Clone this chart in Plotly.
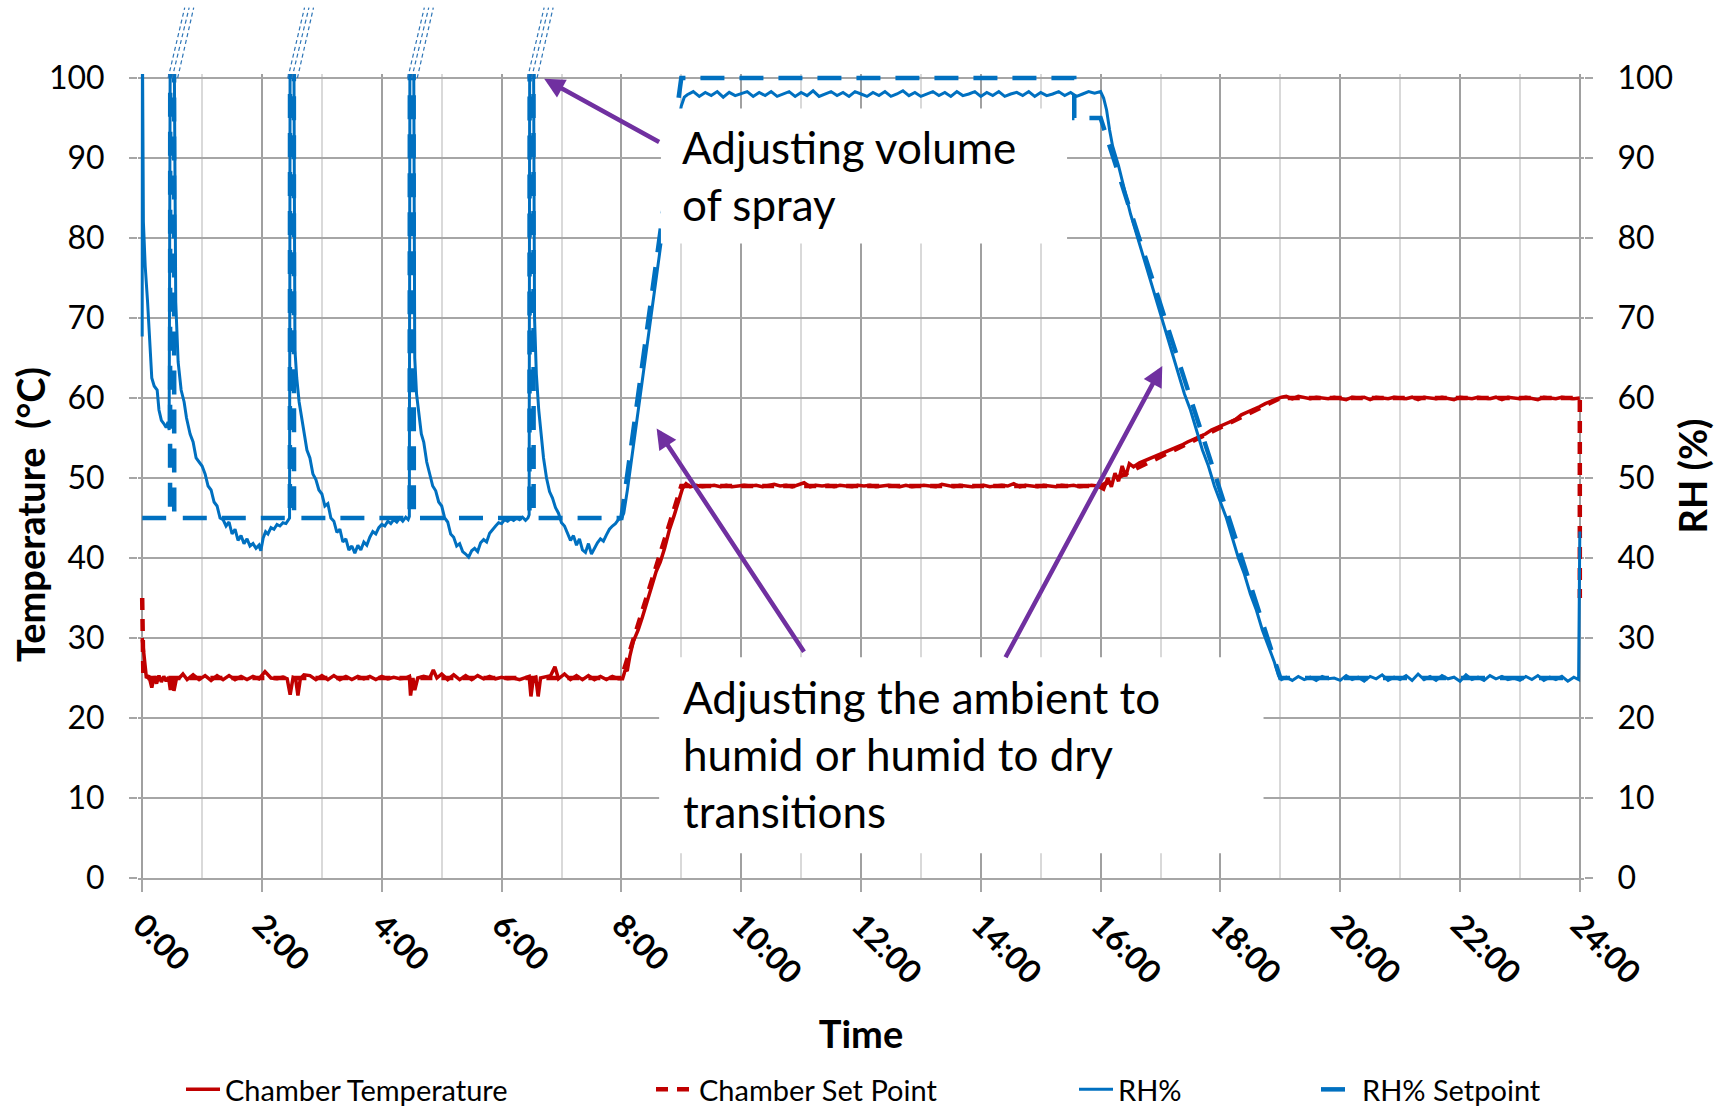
import plotly.graph_objects as go

# ---------------- data (hours since start) ----------------
tick_hours = [0, 2, 4, 6, 8, 10, 12, 14, 16, 18, 20, 22, 24]
tick_text = ["0:00", "2:00", "4:00", "6:00", "8:00", "10:00", "12:00",
             "14:00", "16:00", "18:00", "20:00", "22:00", "24:00"]

# Chamber Temperature (°C)
temp_points = [
    (0.00, 30.0), (0.03, 27.6), (0.07, 25.0), (0.11, 25.3), (0.16, 23.8), (0.20, 25.2),
    (0.24, 24.3), (0.28, 25.3), (0.32, 24.5), (0.36, 25.2), (0.40, 24.6), (0.44, 25.1),
    (0.47, 23.5), (0.50, 25.0), (0.53, 23.4), (0.57, 24.9), (0.62, 25.0), (0.68, 25.5),
    (0.75, 24.8), (0.85, 25.4), (0.95, 24.8), (1.05, 25.3), (1.15, 24.7), (1.25, 25.3),
    (1.35, 24.8), (1.45, 25.3), (1.55, 24.8), (1.65, 25.2), (1.75, 24.8), (1.85, 25.2),
    (1.95, 24.9), (2.05, 25.8), (2.15, 25.0), (2.25, 24.9), (2.35, 25.1), (2.42, 24.9),
    (2.47, 22.9), (2.52, 25.1), (2.56, 25.0), (2.60, 22.8), (2.64, 24.9), (2.70, 25.4),
    (2.80, 25.3), (2.90, 24.8), (3.00, 25.3), (3.10, 24.8), (3.20, 25.3), (3.30, 24.8),
    (3.40, 25.2), (3.50, 24.8), (3.60, 25.2), (3.70, 24.9), (3.80, 25.2), (3.90, 24.8),
    (4.00, 25.2), (4.10, 24.9), (4.20, 25.1), (4.30, 24.9), (4.40, 25.0), (4.46, 25.2),
    (4.48, 22.8), (4.52, 25.0), (4.55, 23.5), (4.60, 25.0), (4.70, 25.2), (4.80, 25.0),
    (4.86, 26.0), (4.92, 25.0), (5.00, 25.5), (5.10, 24.8), (5.20, 25.4), (5.30, 24.8),
    (5.40, 25.3), (5.50, 24.8), (5.60, 25.3), (5.70, 24.9), (5.80, 25.2), (5.90, 24.9),
    (6.00, 25.1), (6.10, 24.9), (6.20, 25.0), (6.30, 24.8), (6.40, 25.1), (6.46, 25.2),
    (6.49, 22.7), (6.53, 25.0), (6.57, 25.1), (6.61, 22.7), (6.65, 25.0), (6.75, 25.2),
    (6.82, 25.3), (6.89, 26.4), (6.95, 24.9), (7.05, 25.5), (7.15, 24.8), (7.25, 25.3),
    (7.35, 24.8), (7.45, 25.3), (7.55, 24.8), (7.65, 25.2), (7.75, 24.8), (7.85, 25.2),
    (7.95, 24.9), (8.02, 24.9), (8.06, 25.9), (8.10, 26.0), (8.14, 27.7), (8.20, 29.6),
    (8.28, 31.0), (8.35, 32.6), (8.42, 34.5), (8.50, 36.3), (8.58, 38.3), (8.65, 39.5),
    (8.72, 41.2), (8.80, 43.5), (8.88, 45.3), (8.95, 47.2), (9.02, 48.7), (9.08, 49.3),
    (9.15, 48.9), (9.25, 49.1), (9.35, 48.9), (9.45, 49.0), (9.55, 49.1), (9.65, 48.9),
    (9.75, 49.1), (9.85, 48.9), (9.95, 49.0), (10.05, 49.1), (10.15, 49.0), (10.25, 49.1),
    (10.35, 48.9), (10.45, 49.0), (10.55, 49.2), (10.65, 49.0), (10.75, 49.1), (10.85, 48.9),
    (10.95, 49.1), (11.05, 49.4), (11.15, 48.9), (11.25, 49.1), (11.35, 49.0), (11.45, 49.1),
    (11.55, 48.9), (11.65, 49.1), (11.75, 49.0), (11.85, 48.9), (11.95, 49.1), (12.05, 49.0),
    (12.15, 49.1), (12.25, 48.9), (12.35, 49.0), (12.45, 49.1), (12.55, 49.0), (12.65, 48.9),
    (12.75, 49.1), (12.85, 48.9), (12.95, 49.0), (13.05, 49.1), (13.15, 49.0), (13.25, 48.9),
    (13.35, 49.2), (13.45, 49.0), (13.55, 48.9), (13.65, 49.1), (13.75, 49.0), (13.85, 48.9),
    (13.95, 49.0), (14.05, 49.1), (14.15, 48.9), (14.25, 49.0), (14.35, 49.1), (14.45, 49.0),
    (14.55, 49.3), (14.65, 48.9), (14.75, 49.1), (14.85, 49.0), (14.95, 48.9), (15.05, 49.1),
    (15.15, 49.0), (15.25, 48.9), (15.35, 49.1), (15.45, 49.0), (15.55, 49.1), (15.65, 48.9),
    (15.75, 49.0), (15.85, 49.1), (15.95, 49.0), (16.05, 48.6), (16.12, 50.0), (16.18, 48.9),
    (16.24, 50.6), (16.30, 49.6), (16.36, 51.5), (16.42, 50.2), (16.48, 51.8), (16.55, 51.4),
    (16.65, 51.9), (16.75, 52.2), (16.85, 52.6), (16.95, 52.9), (17.05, 53.1), (17.15, 53.4),
    (17.25, 53.8), (17.35, 54.1), (17.45, 54.5), (17.55, 54.8), (17.65, 55.2), (17.75, 55.5),
    (17.85, 56.0), (17.95, 56.3), (18.05, 56.7), (18.15, 57.0), (18.25, 57.3), (18.35, 57.9),
    (18.45, 58.2), (18.55, 58.6), (18.65, 58.9), (18.75, 59.3), (18.85, 59.6), (18.95, 59.9),
    (19.02, 60.1), (19.10, 60.2), (19.20, 59.9), (19.30, 60.2), (19.40, 60.0), (19.50, 59.9),
    (19.60, 60.1), (19.70, 60.0), (19.80, 59.9), (19.90, 60.1), (20.00, 60.0), (20.10, 59.8),
    (20.20, 60.1), (20.30, 60.0), (20.40, 60.1), (20.50, 59.8), (20.60, 60.1), (20.70, 60.0),
    (20.80, 59.9), (20.90, 60.1), (21.00, 60.0), (21.10, 59.9), (21.20, 60.1), (21.30, 59.8),
    (21.40, 60.1), (21.50, 60.0), (21.60, 59.9), (21.70, 60.1), (21.80, 60.0), (21.90, 59.8),
    (22.00, 60.1), (22.10, 60.0), (22.20, 59.9), (22.30, 60.1), (22.40, 60.0), (22.50, 59.9),
    (22.60, 60.1), (22.70, 59.8), (22.80, 60.1), (22.90, 60.0), (23.00, 59.9), (23.10, 60.1),
    (23.20, 60.0), (23.30, 59.8), (23.40, 60.1), (23.50, 60.0), (23.60, 59.9), (23.70, 60.1),
    (23.80, 60.0), (23.90, 59.9), (24.00, 60.0),
]

# Chamber Set Point (°C)
setpoint_t = [0.0, 0.02, 8.0, 9.0, 16.0, 19.0, 24.0, 24.0]
setpoint_v = [35, 25, 25, 49, 49, 60, 60, 35]

# RH% (measured)
rh_points = [
    (0.000, 67.7), (0.004, 105.0), (0.02, 82.0), (0.05, 76.5), (0.09, 72.0), (0.13, 66.0),
    (0.16, 62.5), (0.20, 61.5), (0.25, 61.0), (0.28, 58.5), (0.32, 57.2), (0.36, 56.8),
    (0.40, 56.3), (0.43, 57.0), (0.45, 56.0), (0.47, 110.0), (0.53, 110.0), (0.56, 72.0),
    (0.60, 64.5), (0.65, 61.0), (0.70, 59.5), (0.74, 57.5), (0.80, 55.5), (0.85, 54.5),
    (0.90, 52.5), (0.95, 52.0), (1.00, 51.5), (1.05, 50.5), (1.10, 49.0), (1.15, 48.5),
    (1.20, 47.0), (1.25, 46.5), (1.30, 45.0), (1.35, 44.8), (1.40, 44.0), (1.45, 44.5),
    (1.50, 43.0), (1.55, 43.6), (1.60, 42.2), (1.65, 42.8), (1.70, 41.8), (1.75, 42.4),
    (1.80, 41.5), (1.85, 41.8), (1.90, 41.2), (1.95, 41.6), (1.98, 40.9), (2.02, 42.5),
    (2.06, 43.3), (2.10, 43.0), (2.15, 43.8), (2.20, 43.6), (2.25, 44.2), (2.30, 44.0),
    (2.35, 44.4), (2.40, 44.3), (2.44, 44.8), (2.46, 45.0), (2.47, 110.0), (2.53, 110.0),
    (2.55, 66.0), (2.58, 62.5), (2.62, 59.5), (2.66, 57.5), (2.70, 56.0), (2.75, 53.5),
    (2.80, 52.5), (2.85, 50.5), (2.90, 49.8), (2.95, 48.5), (3.00, 48.0), (3.05, 46.5),
    (3.10, 46.8), (3.15, 45.0), (3.20, 44.6), (3.25, 43.2), (3.30, 43.6), (3.35, 42.0),
    (3.40, 42.4), (3.45, 41.0), (3.50, 41.5), (3.55, 40.6), (3.60, 41.6), (3.65, 41.0),
    (3.70, 42.0), (3.75, 41.6), (3.80, 42.6), (3.85, 43.3), (3.90, 43.0), (3.95, 43.8),
    (4.00, 44.2), (4.05, 44.0), (4.10, 44.6), (4.15, 44.3), (4.20, 44.8), (4.25, 44.5),
    (4.30, 45.0), (4.35, 44.6), (4.40, 45.1), (4.44, 44.8), (4.46, 45.2), (4.47, 110.0),
    (4.53, 110.0), (4.55, 65.0), (4.58, 60.5), (4.62, 58.0), (4.66, 55.5), (4.70, 54.5),
    (4.75, 52.0), (4.80, 50.5), (4.85, 49.0), (4.90, 48.4), (4.95, 47.0), (5.00, 46.5),
    (5.05, 45.0), (5.10, 44.5), (5.15, 43.0), (5.20, 42.6), (5.25, 41.5), (5.30, 41.8),
    (5.35, 40.8), (5.40, 40.5), (5.45, 40.1), (5.50, 40.9), (5.55, 41.2), (5.60, 40.8),
    (5.65, 41.9), (5.70, 42.3), (5.75, 42.0), (5.80, 43.1), (5.85, 43.6), (5.90, 44.0),
    (5.95, 44.4), (6.00, 44.3), (6.05, 44.8), (6.10, 44.6), (6.15, 44.9), (6.20, 44.7),
    (6.25, 45.0), (6.30, 44.8), (6.35, 45.1), (6.40, 44.7), (6.44, 45.0), (6.46, 45.4),
    (6.47, 110.0), (6.53, 110.0), (6.55, 70.0), (6.58, 63.0), (6.62, 58.5), (6.66, 55.0),
    (6.70, 52.5), (6.75, 50.0), (6.80, 48.3), (6.85, 47.5), (6.90, 46.3), (6.95, 45.6),
    (7.00, 44.4), (7.05, 44.0), (7.10, 43.1), (7.15, 42.2), (7.20, 42.8), (7.25, 41.6),
    (7.30, 42.4), (7.35, 41.0), (7.40, 40.7), (7.45, 41.8), (7.50, 40.5), (7.55, 41.3),
    (7.60, 41.9), (7.65, 42.4), (7.70, 42.1), (7.75, 42.9), (7.80, 43.6), (7.85, 44.0),
    (7.90, 44.3), (7.95, 44.8), (8.00, 44.9), (8.04, 45.6), (8.10, 48.5), (8.20, 54.0),
    (8.30, 59.5), (8.40, 65.5), (8.50, 71.0), (8.60, 76.5), (8.70, 82.0), (8.80, 87.5),
    (8.90, 92.5), (9.00, 96.5), (9.05, 97.6), (9.10, 97.9), (9.20, 98.3), (9.30, 97.7),
    (9.40, 98.2), (9.50, 97.8), (9.60, 98.3), (9.70, 97.6), (9.80, 98.2), (9.90, 97.8),
    (10.00, 98.1), (10.10, 98.3), (10.20, 97.7), (10.30, 98.2), (10.40, 97.8), (10.50, 98.3),
    (10.60, 97.7), (10.70, 98.0), (10.80, 98.3), (10.90, 97.7), (11.00, 98.2), (11.10, 97.8),
    (11.20, 98.4), (11.30, 97.7), (11.40, 98.0), (11.50, 98.3), (11.60, 97.8), (11.70, 98.2),
    (11.80, 97.7), (11.90, 98.3), (12.00, 98.0), (12.10, 97.7), (12.20, 98.2), (12.30, 97.8),
    (12.40, 98.3), (12.50, 97.7), (12.60, 98.0), (12.70, 98.4), (12.80, 97.8), (12.90, 98.2),
    (13.00, 97.7), (13.10, 98.0), (13.20, 98.3), (13.30, 97.8), (13.40, 98.2), (13.50, 97.7),
    (13.60, 98.3), (13.70, 97.8), (13.80, 98.0), (13.90, 98.3), (14.00, 97.7), (14.10, 98.2),
    (14.20, 97.8), (14.30, 98.3), (14.40, 97.7), (14.50, 98.0), (14.60, 98.2), (14.70, 97.8),
    (14.80, 98.3), (14.90, 97.7), (15.00, 98.2), (15.10, 97.8), (15.20, 98.0), (15.30, 98.3),
    (15.40, 97.8), (15.50, 98.2), (15.60, 97.7), (15.70, 98.0), (15.80, 98.3), (15.90, 98.1),
    (16.00, 98.3), (16.05, 97.5), (16.10, 96.0), (16.15, 93.5), (16.20, 91.5), (16.30, 89.0),
    (16.40, 86.0), (16.50, 83.0), (16.60, 80.5), (16.70, 78.0), (16.80, 75.5), (16.90, 73.0),
    (17.00, 70.5), (17.10, 68.0), (17.20, 65.5), (17.30, 63.0), (17.40, 60.5), (17.50, 58.5),
    (17.60, 56.0), (17.70, 53.5), (17.80, 51.5), (17.90, 49.0), (18.00, 47.0), (18.10, 45.0),
    (18.20, 42.5), (18.30, 40.0), (18.40, 38.0), (18.50, 35.5), (18.60, 33.5), (18.70, 31.0),
    (18.80, 29.0), (18.90, 27.0), (18.97, 25.3), (19.02, 24.8), (19.10, 25.1), (19.20, 24.7),
    (19.30, 25.2), (19.40, 24.8), (19.50, 25.1), (19.60, 24.7), (19.70, 25.2), (19.80, 24.9),
    (19.90, 25.0), (20.00, 24.7), (20.10, 25.3), (20.20, 24.8), (20.30, 25.1), (20.40, 24.6),
    (20.50, 25.2), (20.60, 24.9), (20.70, 25.4), (20.80, 24.7), (20.90, 25.1), (21.00, 24.8),
    (21.10, 25.3), (21.20, 24.7), (21.30, 25.5), (21.40, 24.8), (21.50, 25.2), (21.60, 24.7),
    (21.70, 25.3), (21.80, 24.9), (21.90, 25.1), (22.00, 24.6), (22.10, 25.4), (22.20, 24.8),
    (22.30, 25.1), (22.40, 24.7), (22.50, 25.3), (22.60, 24.9), (22.70, 25.2), (22.80, 24.8),
    (22.90, 25.0), (23.00, 24.7), (23.10, 25.2), (23.20, 24.8), (23.30, 25.3), (23.40, 24.7),
    (23.50, 25.1), (23.60, 24.8), (23.70, 25.2), (23.80, 24.6), (23.90, 25.1), (23.98, 24.8),
    (24.00, 43.3),
]

# RH% Setpoint
rhsp_t = [0.0, 0.465, 0.47, 0.53, 0.535, 2.465, 2.47, 2.53, 2.535,
          4.465, 4.47, 4.53, 4.535, 6.465, 6.47, 6.53, 6.535,
          8.0, 9.0, 15.56, 15.56, 16.0, 19.0, 24.0]
rhsp_v = [45, 45, 140, 140, 45, 45, 140, 140, 45,
          45, 140, 140, 45, 45, 140, 140, 45,
          45, 100, 100, 95, 95, 25, 25]

series_names = ["Chamber Temperature", "Chamber Set Point", "RH%", "RH% Setpoint"]

# annotation arrows: (head_t, head_v, tail_t, tail_v)
arrows = [(6.71, 99.9, 8.655, 91.9), (8.588, 56.2, 11.065, 28.1), (17.03, 64.0, 14.40, 27.4)]
# white callout boxes: (t0, t1, v0, v1)
boxes = [(8.66, 15.44, 79.3, 96.2), (8.63, 18.72, 3.1, 27.6)]
callouts = [(8.98, 87.8, "Adjusting volume<br>of spray"),
            (9.00, 15.5, "Adjusting the ambient to<br>humid or humid to dry<br>transitions")]
spike_times = [0.5, 2.5, 4.5, 6.5]

# ---------------- styling ----------------
RED = "#C00000"
BLUE = "#0070C0"
PURPLE = "#7030A0"
GRID = "#A6A6A6"
MINOR = "#D9D9D9"
FONT = "Lato"
X0, X1 = -0.07, 24.07
Y0, Y1 = 0, 100.5

temp_t = [p[0] for p in temp_points]
temp_v = [p[1] for p in temp_points]
rh_t = [p[0] for p in rh_points]
rh_v = [p[1] for p in rh_points]

fig = go.Figure()
fig.add_trace(go.Scatter(x=temp_t, y=temp_v, mode="lines", name=series_names[0],
                         line=dict(color=RED, width=3.5), legend="legend"))
fig.add_trace(go.Scatter(x=setpoint_t, y=setpoint_v, mode="lines", name=series_names[1],
                         line=dict(color=RED, width=4.5, dash="12px,9px"), legend="legend2"))
fig.add_trace(go.Scatter(x=rh_t, y=rh_v, mode="lines", name=series_names[2], yaxis="y2",
                         line=dict(color=BLUE, width=3.0), legend="legend3"))
fig.add_trace(go.Scatter(x=rhsp_t, y=rhsp_v, mode="lines", name=series_names[3], yaxis="y2",
                         line=dict(color=BLUE, width=4.5, dash="24px,15px"), legend="legend4"))

W, H = 1736, 1108
ML, MR, MT, MB = 138, 152, 74, 230
plot_w = W - ML - MR
plot_h = H - MT - MB


def px_x(px):
    return (px - ML) / plot_w


def px_y(py):
    return (H - MB - py) / plot_h


def tx(t):
    return (t - X0) / (X1 - X0)


shapes = []
for (t0, t1, v0, v1) in boxes:
    shapes.append(dict(type="rect", xref="x", yref="y", x0=t0, x1=t1, y0=v0, y1=v1,
                       fillcolor="white", line=dict(width=0), layer="above"))
# overflow marks drawn above the plot where spikes leave the axis
for st in spike_times:
    for db, dt in [(-0.067, 0.21), (0.0, 0.284), (0.092, 0.36)]:
        shapes.append(dict(type="line", xref="paper", yref="paper",
                           x0=tx(st + db), x1=tx(st + dt), y0=100 / (Y1 - Y0), y1=108.8 / (Y1 - Y0),
                           line=dict(color="#2E75B6", width=1.2, dash="4px,3px")))

annotations = []
for (ht, hv, at, av) in arrows:
    annotations.append(dict(x=ht, y=hv, xref="x", yref="y", ax=at, ay=av, axref="x", ayref="y",
                            text="", showarrow=True, arrowhead=2, arrowsize=0.9,
                            arrowwidth=4.5, arrowcolor=PURPLE))
for (t, v, txt) in callouts:
    annotations.append(dict(x=t, y=v, xref="x", yref="y", text=txt, showarrow=False,
                            xanchor="left", yanchor="middle", align="left",
                            font=dict(family=FONT, size=44, color="black")))
annotations.append(dict(x=px_x(30), y=px_y(515), xref="paper", yref="paper",
                        text="Temperature\u00a0 (°C)", textangle=-90, showarrow=False,
                        xanchor="center", yanchor="middle",
                        font=dict(family=FONT, size=38, color="black", weight="bold")))

legend_common = dict(y=px_y(1089.5), yanchor="middle", xanchor="left", orientation="h",
                     bgcolor="rgba(0,0,0,0)", borderwidth=0,
                     font=dict(family=FONT, size=29, color="black"))
legend_pos = [(181, 34), (651, 38), (1074, 34), (1316, 36)]
legends = {}
for i, (L, iw) in enumerate(legend_pos):
    key = "legend" if i == 0 else f"legend{i + 1}"
    legends[key] = dict(x=px_x(L), itemwidth=iw, **legend_common)

fig.update_layout(
    width=W, height=H,
    margin=dict(l=ML, r=MR, t=MT, b=MB, autoexpand=False),
    paper_bgcolor="white", plot_bgcolor="white",
    showlegend=True,
    font=dict(family=FONT, color="black"),
    xaxis=dict(range=[X0, X1], tickmode="array", tickvals=tick_hours, ticktext=tick_text,
               tickangle=45, ticks="outside", ticklen=12, tickwidth=1.5, tickcolor=GRID,
               showgrid=True, gridcolor="#A0A0A0", gridwidth=1.5, zeroline=False,
               showline=True, linecolor=GRID, linewidth=1.5,
               tickfont=dict(family=FONT, size=32, color="black", weight="bold"),
               ticklabelstandoff=2,
               minor=dict(tick0=0, dtick=1, showgrid=True, gridcolor=MINOR, gridwidth=1.5, ticks=""),
               title=dict(text="Time", standoff=32,
                          font=dict(family=FONT, size=38, color="black", weight="bold"))),
    yaxis=dict(range=[Y0, Y1], tick0=0, dtick=10, ticks="outside", ticklen=8, tickwidth=1.5,
               tickcolor=GRID, showgrid=True, gridcolor=GRID, gridwidth=1.5, zeroline=False,
               showline=False, ticklabelstandoff=18,
               tickfont=dict(family=FONT, size=32, color="black")),
    yaxis2=dict(range=[Y0, Y1], tick0=0, dtick=10, overlaying="y", side="right",
                ticks="outside", ticklen=8, tickwidth=1.5, tickcolor=GRID, showgrid=False,
                zeroline=False, showline=False, ticklabelstandoff=18,
                tickfont=dict(family=FONT, size=32, color="black"),
                title=dict(text="RH (%)", standoff=8,
                           font=dict(family=FONT, size=38, color="black", weight="bold"))),
    shapes=shapes,
    annotations=annotations,
    **legends,
)

fig.write_html("out.html")
